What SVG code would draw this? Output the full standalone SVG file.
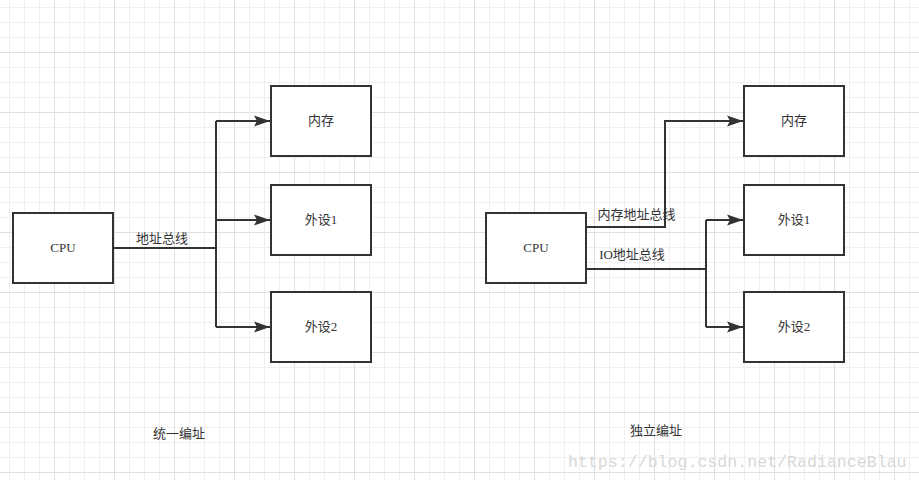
<svg xmlns="http://www.w3.org/2000/svg" width="919" height="480" viewBox="0 0 919 480">
<style>
.box{fill:#fff;stroke:#333;stroke-width:2}
.wire{fill:none;stroke:#333;stroke-width:2}
.t{font-family:"Liberation Serif","Noto Sans CJK SC",serif;font-size:13px;fill:#333}
.c{font-family:"Noto Sans CJK SC",sans-serif;font-size:13px;fill:#333}
</style>
<defs>
<pattern id="grid" patternUnits="userSpaceOnUse" x="54" y="52" width="60" height="60">
<path d="M15.5 0V60M30.5 0V60M45.5 0V60M0 15.5H60M0 30.5H60M0 45.5H60" stroke="#efefef" stroke-width="1"/>
<path d="M0.5 0V60M0 0.5H60" stroke="#e0e0e0" stroke-width="1"/>
</pattern>
<marker id="arr" markerUnits="userSpaceOnUse" markerWidth="18" markerHeight="12" refX="16" refY="6" orient="auto">
<path d="M0,0.5 L16,6 L0,11.5 L3,6 Z" fill="#333"/>
</marker>
</defs>
<rect width="919" height="480" fill="#fff"/>
<rect width="919" height="480" fill="url(#grid)"/>
<g id="connectors">
<path class="wire" d="M113 248H216"/>
<path class="wire" d="M216 121V327"/>
<path class="wire" d="M216 121H270" marker-end="url(#arr)"/>
<path class="wire" d="M216 220H270" marker-end="url(#arr)"/>
<path class="wire" d="M216 327H270" marker-end="url(#arr)"/>
<path class="wire" d="M586 227H665V121H743" marker-end="url(#arr)"/>
<path class="wire" d="M586 269H706"/>
<path class="wire" d="M706 220V327"/>
<path class="wire" d="M706 220H743" marker-end="url(#arr)"/>
<path class="wire" d="M706 327H743" marker-end="url(#arr)"/>
<text class="c" x="162" y="243" text-anchor="middle">地址总线</text>
<text class="c" x="636.5" y="219" text-anchor="middle">内存地址总线</text>
<text class="t" x="632" y="259" text-anchor="middle">IO地址总线</text>
</g>
<g id="cpu1"><rect class="box" x="13" y="213" width="100" height="70"/><text class="t" x="63" y="252" text-anchor="middle">CPU</text></g>
<g id="mem1"><rect class="box" x="271" y="86" width="100" height="70"/><text class="c" x="321" y="125" text-anchor="middle">内存</text></g>
<g id="dev1a"><rect class="box" x="271" y="185" width="100" height="70"/><text class="t" x="321" y="224" text-anchor="middle">外设1</text></g>
<g id="dev2a"><rect class="box" x="271" y="292" width="100" height="70"/><text class="t" x="321" y="331" text-anchor="middle">外设2</text></g>
<g id="cpu2"><rect class="box" x="486" y="213" width="100" height="70"/><text class="t" x="536" y="252" text-anchor="middle">CPU</text></g>
<g id="mem2"><rect class="box" x="744" y="86" width="100" height="70"/><text class="c" x="794" y="125" text-anchor="middle">内存</text></g>
<g id="dev1b"><rect class="box" x="744" y="185" width="100" height="70"/><text class="t" x="794" y="224" text-anchor="middle">外设1</text></g>
<g id="dev2b"><rect class="box" x="744" y="292" width="100" height="70"/><text class="t" x="794" y="331" text-anchor="middle">外设2</text></g>
<text class="c" x="179" y="438" text-anchor="middle">统一编址</text>
<text class="c" x="656" y="435" text-anchor="middle">独立编址</text>
<text x="568" y="467" font-family="Liberation Mono,monospace" font-size="16.6px" fill="#d8d8d8">https://blog.csdn.net/RadianceBlau</text>
</svg>
